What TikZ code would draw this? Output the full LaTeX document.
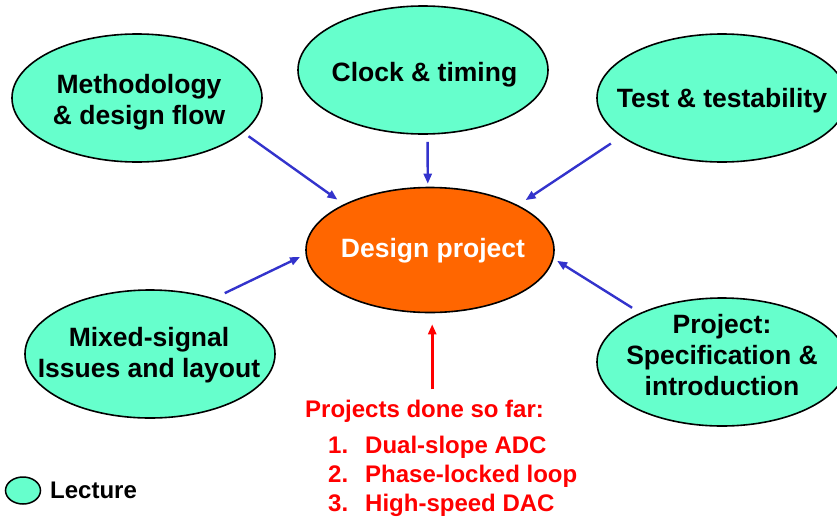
\documentclass[tikz,border=0pt]{standalone}
\usepackage{fontspec}
\setmainfont{Liberation Sans}
\usetikzlibrary{shapes.geometric,arrows.meta,calc}
\definecolor{lec}{HTML}{66FFCC}
\definecolor{projfill}{HTML}{FF6600}
\definecolor{arrblue}{HTML}{3333CC}
\definecolor{projred}{HTML}{FF0000}
\begin{document}
\begin{tikzpicture}[x=1pt,y=-1pt,
  lecture/.style={ellipse, draw=black, line width=1.6pt, fill=lec, inner sep=0pt,
    minimum width=250pt, minimum height=128pt},
  projell/.style={ellipse, draw=black, line width=1.6pt, fill=projfill, inner sep=0pt,
    minimum width=248pt, minimum height=125pt},
  lbl/.style={font=\fontsize{26.5}{31}\selectfont\bfseries, align=center, inner sep=0pt},
  redtext/.style={font=\fontsize{24}{29}\selectfont\bfseries, text=projred, inner sep=0pt},
  conn/.style={draw=arrblue, line width=2.4pt, -{Triangle[length=10pt,width=8pt]}},
  redconn/.style={draw=projred, line width=2.6pt, -{Triangle[length=10pt,width=8pt]}}]
\useasboundingbox (0,0) rectangle (837,517);
\clip (0,0) rectangle (837,517);
% ellipses
\node[lecture] (meth) at (137,98) {};
\node[lecture] (clock) at (423,70) {};
\node[lecture] (test) at (722,98) {};
\node[lecture] (mixed) at (150,354) {};
\node[lecture] (spec) at (722,362) {};
\node[projell] (design) at (430,250) {};
\node[lecture, minimum width=35pt, minimum height=27pt, line width=1.5pt] (legend) at (23,490.5) {};
% texts
\node[lbl] (methtext) at (139,101.8) {Methodology\\\& design flow};
\node[lbl, anchor=base] (clocktext) at (424.5,81) {Clock \& timing};
\node[lbl, anchor=base] (testtext) at (722,107) {Test \& testability};
\node[lbl, anchor=base, text=white] (designtext) at (433,257.5) {Design project};
\node[lbl] (mixedtext) at (149,354.8) {Mixed-signal\\Issues and layout};
\node[lbl] (spectext) at (722,355.5) {Project:\\Specification \&\\introduction};
\node[font=\fontsize{24}{29}\selectfont\bfseries, anchor=base west, inner sep=0pt] (lecturetext) at (50,498) {Lecture};
\node[redtext, anchor=base west] (projhead) at (305,417) {Projects done so far:};
\node[redtext, anchor=north west, align=left] (projlist) at (328,435.8)
  {\makebox[37pt][l]{1.}Dual-slope ADC\\\makebox[37pt][l]{2.}Phase-locked loop\\\makebox[37pt][l]{3.}High-speed DAC};
% connectors
\draw[conn, shorten <=6.3pt, shorten >=7.9pt] (meth.-18.7) -- (design.152.3);
\draw[conn, shorten <=7pt, shorten >=3pt] (clock.-86.8) -- (design.92.6);
\draw[conn, shorten <=12.3pt, shorten >=9.1pt] (test.201.3) -- (design.27.2);
\draw[conn, shorten <=11.8pt, shorten >=6pt] (mixed.41) -- (design.182);
\draw[conn, shorten <=9.5pt, shorten >=4.1pt] (spec.149.4) -- (design.-4.5);
\draw[redconn, shorten <=10pt, shorten >=11pt] (projhead.north -| design.-88) -- (design.-88);
\end{tikzpicture}
\end{document}
